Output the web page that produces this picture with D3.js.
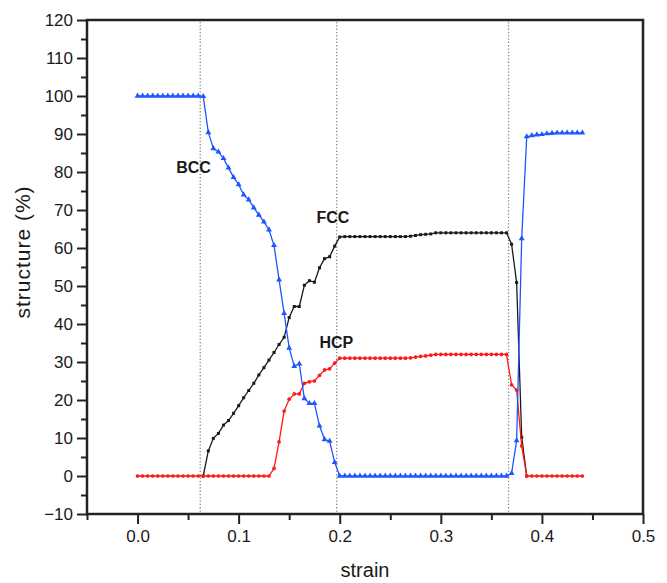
<!DOCTYPE html>
<meta charset="utf-8">
<style>
  body { margin: 0; background: #fff; }
  text { font-family: "Liberation Sans", Arial, sans-serif; fill: #1a1a1a; }
</style>

<svg width="667" height="583"></svg>

<script src="https://d3js.org/d3.v7.min.js"></script>
<script>
// strain values of the sampled points
var strain = [
  0.000, 0.005, 0.010, 0.015, 0.020, 0.025, 0.030, 0.035, 0.040, 0.045,
  0.050, 0.055, 0.060, 0.065, 0.070, 0.075, 0.080, 0.085, 0.090, 0.095,
  0.100, 0.105, 0.110, 0.115, 0.120, 0.125, 0.130, 0.135, 0.140, 0.145,
  0.150, 0.155, 0.160, 0.165, 0.170, 0.175, 0.180, 0.185, 0.190, 0.195,
  0.200, 0.205, 0.210, 0.215, 0.220, 0.225, 0.230, 0.235, 0.240, 0.245,
  0.250, 0.255, 0.260, 0.265, 0.270, 0.275, 0.280, 0.285, 0.290, 0.295,
  0.300, 0.305, 0.310, 0.315, 0.320, 0.325, 0.330, 0.335, 0.340, 0.345,
  0.350, 0.355, 0.360, 0.365, 0.370, 0.375, 0.380, 0.385, 0.390, 0.395,
  0.400, 0.405, 0.410, 0.415, 0.420, 0.425, 0.430, 0.435, 0.440
]

// structure fractions (%)
var bcc = [
  100, 100, 100, 100, 100, 100, 100, 100, 100, 100,
  100, 100, 100, 99.9, 90.4, 86.2, 85.3, 83.6, 81.1, 78.6,
  76.7, 74.0, 72.7, 70.6, 68.7, 66.9, 64.8, 60.7, 51.6, 42.8,
  33.7, 28.9, 29.5, 20.4, 19.1, 19.1, 13.2, 9.6, 9.2, 3.6,
  0, 0, 0, 0, 0, 0, 0, 0, 0, 0,
  0, 0, 0, 0, 0, 0, 0, 0, 0, 0,
  0, 0, 0, 0, 0, 0, 0, 0, 0, 0,
  0, 0, 0, 0, 0.7, 9.3, 62.5, 89.3, 89.6, 89.8,
  89.9, 90.1, 90.2, 90.3, 90.3, 90.3, 90.3, 90.3, 90.3
]

var fcc = [
  null, null, null, null, null, null, null, null, null, null,
  null, null, null, 0, 6.6, 9.9, 11.2, 13.4, 14.6, 16.5,
  18.5, 20.6, 22.5, 24.4, 26.6, 28.5, 30.5, 32.5, 34.6, 36.5,
  41.7, 44.6, 44.6, 50.2, 51.4, 51.0, 54.8, 57.2, 57.7, 60.5,
  62.9, 63.0, 63.0, 63.0, 63.0, 63.0, 63.0, 63.0, 63.0, 63.0,
  63.0, 63.0, 63.0, 63.0, 63.1, 63.3, 63.5, 63.6, 63.7, 64.0,
  64.0, 64.0, 64.0, 64.0, 64.0, 64.0, 64.0, 64.0, 64.0, 64.0,
  64.0, 64.0, 64.0, 64.0, 61.0, 50.9, 10.2, 0, null, null,
  null, null, null, null, null, null, null, null, null
]

var hcp = [
  0, 0, 0, 0, 0, 0, 0, 0, 0, 0,
  0, 0, 0, 0, 0, 0, 0, 0, 0, 0,
  0, 0, 0, 0, 0, 0, 0, 2.0, 9.0, 17.1,
  20.2, 21.6, 21.6, 24.4, 24.8, 25.0, 26.5, 27.9, 28.2, 29.7,
  31.0, 31.0, 31.0, 31.0, 31.0, 31.0, 31.0, 31.0, 31.0, 31.0,
  31.0, 31.0, 31.0, 31.0, 31.1, 31.3, 31.5, 31.6, 31.8, 32.0,
  32.0, 32.0, 32.0, 32.0, 32.0, 32.0, 32.0, 32.0, 32.0, 32.0,
  32.0, 32.0, 32.0, 32.0, 24.0, 22.6, 7.9, 0, 0, 0,
  0, 0, 0, 0, 0, 0, 0, 0, 0
]

// strain where the dotted guide lines sit
var phaseLines = [0.062, 0.197, 0.367]

var xMajor = [0, 0.1, 0.2, 0.3, 0.4, 0.5]
var xMinor = [-0.05, 0.05, 0.15, 0.25, 0.35, 0.45]
var yMajor = [-10, 0, 10, 20, 30, 40, 50, 60, 70, 80, 90, 100, 110, 120]
var yMinor = [-5, 5, 15, 25, 35, 45, 55, 65, 75, 85, 95, 105, 115]

var svg = d3.select('svg')

var x = d3.scaleLinear().domain([-0.05, 0.5]).range([87, 643])
var y = d3.scaleLinear().domain([-10, 120]).range([514, 20])

// axes: minor ticks first, then labelled major ticks
svg.append('g')
  .attr('transform', 'translate(0,514)')
  .call(d3.axisBottom(x).tickValues(xMinor).tickSize(6).tickSizeOuter(0).tickFormat(''))
svg.append('g')
  .attr('transform', 'translate(0,514)')
  .call(d3.axisBottom(x).tickValues(xMajor).tickSize(10).tickSizeOuter(0).tickPadding(6).tickFormat(d3.format('.1f')))
svg.append('g')
  .attr('transform', 'translate(87,0)')
  .call(d3.axisLeft(y).tickValues(yMinor).tickSize(6).tickSizeOuter(0).tickFormat(''))
svg.append('g')
  .attr('transform', 'translate(87,0)')
  .call(d3.axisLeft(y).tickValues(yMajor).tickSize(10).tickSizeOuter(0).tickPadding(4))

svg.selectAll('.domain').remove()
svg.selectAll('.tick line').attr('stroke', '#222').attr('stroke-width', 2)
svg.selectAll('.tick text').attr('font-size', 17).style('font-family', '"Liberation Sans", Arial, sans-serif')

// frame
svg.append('rect')
  .attr('x', x(-0.05)).attr('y', y(120))
  .attr('width', x(0.5) - x(-0.05)).attr('height', y(-10) - y(120))
  .attr('fill', 'none').attr('stroke', '#222').attr('stroke-width', 2.5)

// dotted guides
svg.selectAll('.guide')
  .data(phaseLines)
  .enter().append('line')
  .attr('x1', function (d) { return x(d) }).attr('x2', function (d) { return x(d) })
  .attr('y1', y(120) + 2).attr('y2', y(-10) - 2)
  .attr('stroke', '#888').attr('stroke-width', 1.3)
  .attr('stroke-dasharray', '1.3,2')

var series = [
  { name: 'FCC', values: fcc, color: '#1a1a1a', symbol: d3.symbolSquare, size: 9 },
  { name: 'HCP', values: hcp, color: '#ff1a1a', symbol: d3.symbolCircle, size: 11 },
  { name: 'BCC', values: bcc, color: '#1f55ff', symbol: d3.symbolTriangle, size: 15 }
]

var line = d3.line()
  .defined(function (d) { return d[1] != null })
  .x(function (d) { return x(d[0]) })
  .y(function (d) { return y(d[1]) })

series.forEach(function (s) {
  var pts = strain.map(function (t, i) { return [t, s.values[i]] })
  var g = svg.append('g')
  g.append('path')
    .datum(pts)
    .attr('d', line)
    .attr('fill', 'none')
    .attr('stroke', s.color)
    .attr('stroke-width', 1.3)
  g.selectAll('path.pt')
    .data(pts.filter(function (d) { return d[1] != null }))
    .enter().append('path')
    .attr('class', 'pt')
    .attr('d', d3.symbol().type(s.symbol).size(s.size))
    .attr('transform', function (d) { return 'translate(' + x(d[0]) + ',' + y(d[1]) + ')' })
    .attr('fill', s.color)
})

// phase labels
var notes = [
  { text: 'BCC', sx: 0.0383, sy: 79.7 },
  { text: 'FCC', sx: 0.177, sy: 66.6 },
  { text: 'HCP', sx: 0.180, sy: 33.6 }
]
svg.selectAll('.note')
  .data(notes)
  .enter().append('text')
  .attr('x', function (d) { return x(d.sx) })
  .attr('y', function (d) { return y(d.sy) })
  .attr('font-size', 16)
  .attr('font-weight', 'bold')
  .text(function (d) { return d.text })

// axis titles
svg.append('text')
  .attr('x', x(0.225)).attr('y', 577)
  .attr('text-anchor', 'middle')
  .attr('font-size', 20)
  .text('strain')

svg.append('text')
  .attr('transform', 'translate(30,252) rotate(-90)')
  .attr('text-anchor', 'middle')
  .attr('font-size', 21)
  .attr('letter-spacing', 1)
  .text('structure (%)')
</script>
